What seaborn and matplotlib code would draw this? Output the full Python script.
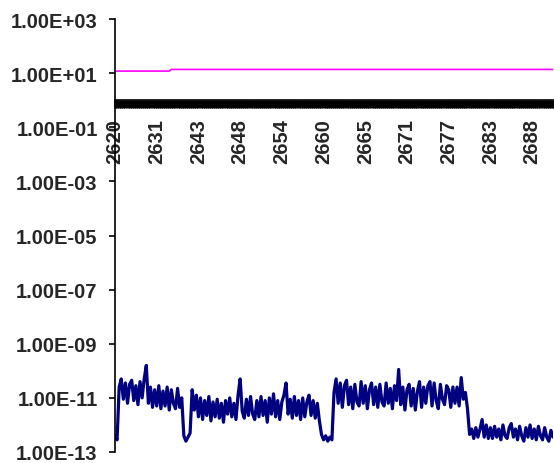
import numpy as np
import pandas as pd
import seaborn as sns
import matplotlib.pyplot as plt
from matplotlib.ticker import FixedLocator, FuncFormatter, NullLocator

# category labels shown on the x axis (one every 20 samples)
x_labels = [2620, 2631, 2643, 2648, 2654, 2660, 2665, 2671, 2677, 2683, 2688]
label_every = 20
y_ticks = [1e3, 1e1, 1e-1, 1e-3, 1e-5, 1e-7, 1e-9, 1e-11, 1e-13]

# magenta series: a step from ~12 to ~14
magenta_idx = [0, 26, 27, 210]
magenta_val = [11.9, 11.9, 13.7, 13.7]

# navy series as log10 values
navy_log10 = [
    -12.4, -12.55, -10.6, -10.3, -11.05, -10.45, -11.2, -10.5, -10.35, -11.1,
    -10.55, -11.25, -10.4, -11.0, -10.3, -9.8, -11.2, -10.6, -11.35, -10.7,
    -11.3, -10.55, -11.4, -10.75, -11.3, -10.6, -11.45, -10.7, -11.2, -11.4,
    -10.65, -11.35, -11.0, -12.4, -12.6, -12.45, -12.3, -10.7, -11.45, -10.9,
    -11.7, -11.0, -11.8, -11.1, -11.65, -10.95, -11.85, -11.15, -11.7, -11.05,
    -11.75, -11.2, -11.9, -11.1, -11.6, -11.0, -11.7, -11.2, -11.8, -10.9,
    -10.3, -11.5, -11.75, -11.05, -11.65, -10.95, -11.6, -11.8, -11.1, -11.7,
    -10.95, -11.65, -11.1, -11.9, -11.0, -11.6, -10.85, -11.7, -11.1, -11.8,
    -11.15, -10.9, -10.45, -11.6, -11.05, -11.75, -10.95, -11.65, -11.1, -11.8,
    -11.0, -11.7, -11.15, -10.9, -11.65, -11.1, -11.75, -11.2, -11.85, -12.35,
    -12.55, -12.4, -12.6, -12.45, -12.55, -10.8, -10.3, -11.2, -10.45, -11.35,
    -10.55, -10.35, -11.25, -10.6, -11.4, -10.5, -11.15, -11.3, -10.4, -11.2,
    -10.55, -11.4, -10.7, -10.45, -11.25, -10.6, -11.35, -10.5, -11.15, -11.3,
    -10.45, -11.2, -10.65, -11.4, -10.55, -11.1, -9.95, -11.25, -10.6, -11.45,
    -10.7, -10.5, -11.3, -10.65, -11.45, -10.75, -10.4, -11.35, -10.6, -11.2,
    -10.55, -10.4, -11.3, -10.45, -11.1, -11.4, -10.5, -11.05, -11.25, -10.55,
    -10.7, -11.35, -10.6, -11.2, -10.6, -11.3, -10.25, -11.05, -10.8, -11.4,
    -12.35, -12.15, -12.5, -12.1, -12.45, -12.15, -11.8, -12.45, -12.0, -12.5,
    -12.1, -12.5, -12.05, -12.45, -12.15, -12.55, -12.0, -12.4, -12.5, -12.1,
    -11.95, -12.45, -12.15, -12.55, -12.05, -12.4, -12.6, -12.1, -12.45, -12.0,
    -12.5, -12.15, -12.55, -12.05, -12.4, -12.55, -12.1, -12.45, -12.6, -12.2, -12.45,
]

sns.set_style("white")
plt.rcParams['font.family'] = ['Liberation Sans', 'DejaVu Sans']
plt.rcParams['font.weight'] = 'bold'

n = len(navy_log10)
navy_df = pd.DataFrame({'sample': np.arange(n), 'value': 10 ** np.array(navy_log10)})
magenta_df = pd.DataFrame({'sample': magenta_idx, 'value': magenta_val})

fig = plt.figure(figsize=(5.54, 4.64), dpi=100)
ax = fig.add_axes([115 / 554, 11 / 464, 438 / 554, 433 / 464])

sns.lineplot(data=navy_df, x='sample', y='value', color='#000080',
             linewidth=2.3, errorbar=None, ax=ax)
sns.lineplot(data=magenta_df, x='sample', y='value', color='#FF00FF',
             linewidth=1.2, errorbar=None, ax=ax)

ax.set_yscale('log')
ax.set_ylim(1e-13, 1e3)
ax.set_xlim(0, n - 1)
ax.yaxis.set_major_locator(FixedLocator(y_ticks))
ax.yaxis.set_minor_locator(NullLocator())
ax.yaxis.set_major_formatter(FuncFormatter(lambda v, p: f"{v:.2E}"))

ax.set_xticks([i * label_every for i in range(len(x_labels))])
ax.set_xticklabels([str(v) for v in x_labels])
ax.set_xticks(np.arange(n), minor=True)

ax.spines['bottom'].set_position(('data', 1))
ax.spines['top'].set_visible(False)
ax.spines['right'].set_visible(False)
for s in ['left', 'bottom']:
    ax.spines[s].set_color('black')
    ax.spines[s].set_linewidth(1.2)

ax.tick_params(axis='x', which='both', direction='out', length=5.8, width=2.2,
               color='black', bottom=True)
ax.tick_params(axis='x', which='major', pad=7, labelsize=14.5, labelrotation=90)
ax.tick_params(axis='y', which='major', direction='out', length=4.5, width=1.2,
               color='black', left=True, pad=8, labelsize=14.5)
ax.set_xlabel('')
ax.set_ylabel('')

fig.savefig('out.png', dpi=100)
